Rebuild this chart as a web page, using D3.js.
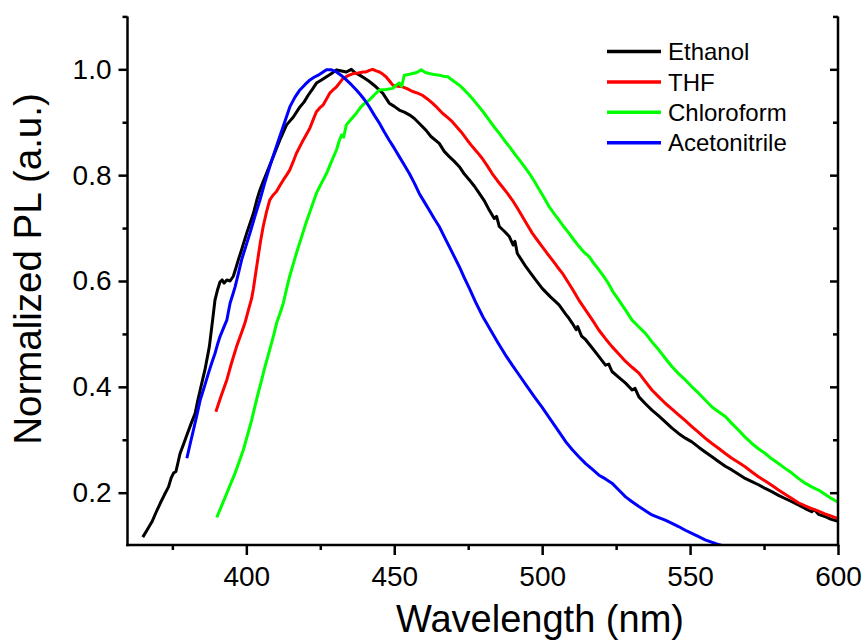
<!DOCTYPE html>
<html>
<head>
<meta charset="utf-8">
<script src="https://cdn.jsdelivr.net/npm/d3@7"></script>
<style>
  html, body { margin: 0; padding: 0; background: #fff; }
  svg { display: block; font-family: "Liberation Sans", Arial, sans-serif; }
</style>
</head>
<body>
<svg id="chart" width="866" height="644"></svg>
<script>
// ---- Data ----
const seriesNames = ["Ethanol", "THF", "Chloroform", "Acetonitrile"];
const seriesColors = ["#000000", "#ff0000", "#00ff00", "#0000ff"];

const xTicksMajor = [400, 450, 500, 550, 600];
const xTicksMinor = [375, 425, 475, 525, 575];
const yTicksMajor = [0.2, 0.4, 0.6, 0.8, 1.0];
const yTickLabels = ["0.2", "0.4", "0.6", "0.8", "1.0"];
const yTicksMinor = [0.3, 0.5, 0.7, 0.9, 1.1];

const ethanol = [
[365.0,0.116],[366.5,0.130],[368.1,0.145],[369.5,0.163],[370.9,0.180],[372.3,0.196],[373.7,0.211],[374.6,0.228],
[375.4,0.237],[376.2,0.240],[377.6,0.274],[378.8,0.292],[379.9,0.309],[381.3,0.330],[382.7,0.350],[383.5,0.372],
[384.4,0.394],[385.2,0.413],[386.0,0.432],[387.5,0.476],[388.6,0.526],[389.4,0.564],[390.2,0.582],[391.1,0.598],
[391.8,0.602],[392.5,0.596],[393.4,0.602],[394.5,0.600],[395.6,0.609],[396.5,0.625],[397.3,0.640],[398.4,0.659],
[400.1,0.690],[401.2,0.708],[402.4,0.728],[403.5,0.752],[404.6,0.772],[405.7,0.788],[406.8,0.803],[409.1,0.835],
[411.3,0.866],[413.6,0.895],[415.9,0.910],[418.1,0.929],[419.5,0.938],[420.9,0.951],[422.3,0.962],[423.7,0.974],
[425.4,0.980],[427.1,0.986],[428.8,0.992],[430.5,0.999],[432.2,0.997],[433.8,0.995],[435.5,1.000],[436.9,0.993],
[438.3,0.989],[440.0,0.983],[441.6,0.977],[443.8,0.967],[446.1,0.955],[448.3,0.936],[450.0,0.930],[451.7,0.923],
[453.4,0.919],[455.1,0.914],[456.8,0.907],[458.4,0.898],[460.7,0.885],[462.4,0.873],[465.2,0.860],[466.9,0.845],
[468.6,0.835],[470.3,0.826],[472.0,0.816],[473.7,0.802],[475.4,0.791],[477.1,0.779],[478.7,0.766],[480.4,0.752],
[482.1,0.734],[483.8,0.718],[484.6,0.722],[485.5,0.703],[487.2,0.694],[488.9,0.684],[490.2,0.668],[490.8,0.675],
[491.6,0.652],[493.0,0.640],[494.5,0.627],[496.1,0.615],[497.8,0.602],[500.0,0.586],[502.8,0.570],[505.7,0.555],
[508.0,0.537],[509.0,0.530],[510.2,0.520],[511.5,0.508],[512.0,0.514],[513.3,0.496],[514.7,0.489],[517.0,0.473],
[519.2,0.457],[521.4,0.441],[522.5,0.443],[523.6,0.429],[525.9,0.418],[528.2,0.407],[530.4,0.394],[531.4,0.397],
[532.7,0.381],[534.9,0.368],[537.1,0.356],[539.4,0.345],[541.6,0.334],[543.9,0.322],[546.1,0.312],[548.4,0.303],
[550.6,0.296],[552.9,0.286],[555.1,0.277],[557.4,0.268],[559.6,0.259],[561.9,0.250],[564.1,0.243],[566.4,0.235],
[568.6,0.227],[570.9,0.221],[573.1,0.215],[575.4,0.208],[577.6,0.202],[579.9,0.195],[582.1,0.189],[584.4,0.183],
[586.6,0.177],[588.9,0.170],[591.1,0.164],[592.0,0.168],[593.4,0.159],[595.6,0.155],[597.5,0.150],[600.0,0.146]
];

const thf = [
[389.7,0.353],[391.5,0.383],[393.4,0.413],[395.0,0.445],[396.7,0.476],[398.1,0.498],[399.5,0.520],[400.6,0.543],
[401.8,0.567],[402.4,0.586],[403.2,0.616],[404.0,0.646],[404.8,0.675],[405.7,0.703],[406.8,0.730],[407.9,0.753],
[409.0,0.762],[410.2,0.769],[411.3,0.780],[412.5,0.791],[413.6,0.800],[414.7,0.810],[415.8,0.825],[416.9,0.841],
[418.0,0.853],[419.2,0.866],[420.3,0.877],[421.5,0.889],[422.6,0.905],[423.7,0.920],[424.8,0.927],[426.0,0.933],
[427.1,0.944],[428.2,0.955],[429.3,0.961],[430.5,0.967],[431.6,0.975],[432.7,0.983],[434.4,0.988],[436.1,0.992],
[437.8,0.993],[439.5,0.995],[440.5,0.995],[441.6,0.998],[442.7,1.000],[443.9,0.997],[445.0,0.995],[446.1,0.991],
[447.2,0.986],[448.4,0.978],[449.5,0.970],[451.2,0.968],[452.8,0.967],[454.5,0.963],[456.2,0.958],[457.9,0.955],
[459.5,0.951],[461.2,0.944],[462.9,0.936],[464.6,0.927],[466.3,0.917],[468.0,0.909],[469.6,0.901],[471.3,0.890],
[473.0,0.879],[474.7,0.866],[476.4,0.854],[478.1,0.843],[479.7,0.832],[481.4,0.818],[483.1,0.803],[484.8,0.790],
[486.5,0.778],[488.2,0.766],[489.9,0.753],[491.6,0.738],[493.3,0.722],[495.0,0.706],[496.7,0.690],[498.4,0.677],
[500.0,0.665],[501.7,0.652],[503.4,0.640],[505.1,0.627],[506.8,0.615],[508.5,0.600],[510.2,0.585],[512.4,0.564],
[514.7,0.545],[517.0,0.526],[519.2,0.507],[521.4,0.491],[523.6,0.476],[525.9,0.462],[528.2,0.448],[530.4,0.437],
[532.7,0.426],[534.9,0.410],[537.1,0.394],[539.4,0.381],[541.6,0.369],[543.9,0.358],[546.1,0.347],[548.4,0.336],
[550.6,0.325],[552.9,0.314],[555.1,0.303],[557.4,0.293],[559.6,0.284],[561.9,0.274],[564.1,0.265],[566.4,0.257],
[568.6,0.249],[570.9,0.239],[573.1,0.230],[575.4,0.222],[577.6,0.214],[579.9,0.205],[582.1,0.197],[584.4,0.189],
[586.6,0.181],[588.9,0.175],[591.1,0.170],[593.4,0.165],[595.6,0.160],[597.5,0.156],[600.0,0.151]
];

const chloroform = [
[390.0,0.153],[391.7,0.176],[393.4,0.199],[394.8,0.218],[396.2,0.237],[397.6,0.259],[399.0,0.281],[400.4,0.309],
[401.8,0.337],[402.9,0.363],[404.0,0.388],[405.2,0.413],[406.3,0.438],[407.4,0.460],[408.5,0.482],[409.4,0.501],
[410.2,0.520],[411.4,0.539],[412.5,0.558],[413.6,0.585],[414.7,0.610],[415.8,0.631],[416.9,0.652],[418.6,0.682],
[420.3,0.712],[422.0,0.739],[423.7,0.766],[425.4,0.785],[427.1,0.803],[428.8,0.826],[430.5,0.848],[431.4,0.865],
[432.2,0.876],[432.9,0.872],[433.8,0.895],[435.5,0.906],[437.2,0.917],[438.6,0.928],[440.0,0.936],[441.6,0.942],
[443.3,0.952],[445.0,0.961],[447.2,0.962],[449.5,0.964],[450.6,0.970],[451.7,0.974],[452.5,0.968],[453.4,0.989],
[454.8,0.990],[456.2,0.992],[457.6,0.994],[459.1,0.999],[460.5,0.994],[461.9,0.992],[463.5,0.990],[465.2,0.989],
[466.6,0.987],[468.1,0.986],[470.0,0.978],[472.0,0.970],[473.7,0.961],[475.4,0.951],[477.1,0.940],[478.7,0.929],
[480.4,0.917],[482.1,0.904],[483.8,0.891],[485.5,0.879],[487.2,0.866],[488.9,0.854],[490.6,0.841],[492.3,0.829],
[494.0,0.816],[495.7,0.803],[497.4,0.788],[499.1,0.772],[500.8,0.756],[502.4,0.740],[504.1,0.727],[505.7,0.715],
[507.4,0.702],[509.1,0.690],[510.8,0.677],[512.5,0.665],[514.2,0.654],[515.9,0.646],[517.5,0.633],[519.2,0.621],
[520.6,0.610],[522.0,0.599],[523.9,0.580],[525.9,0.564],[528.2,0.545],[530.4,0.526],[532.7,0.513],[534.9,0.501],
[537.1,0.485],[539.4,0.470],[541.6,0.454],[543.9,0.438],[546.1,0.425],[548.4,0.413],[550.6,0.400],[552.9,0.388],
[555.1,0.375],[557.4,0.362],[559.6,0.353],[561.9,0.344],[564.1,0.331],[566.4,0.318],[568.6,0.305],[570.9,0.293],
[573.1,0.283],[575.4,0.274],[577.6,0.264],[579.9,0.255],[582.1,0.246],[584.4,0.237],[586.6,0.227],[588.9,0.218],
[591.1,0.211],[593.4,0.205],[595.6,0.197],[597.5,0.190],[600.0,0.182]
];

const acetonitrile = [
[379.9,0.265],[381.0,0.292],[382.1,0.318],[383.3,0.347],[384.4,0.375],[385.8,0.400],[387.2,0.426],[388.3,0.445],
[389.4,0.463],[390.2,0.479],[391.1,0.495],[392.2,0.510],[393.4,0.526],[394.5,0.558],[395.4,0.574],[396.2,0.589],
[397.3,0.614],[398.4,0.640],[399.8,0.665],[401.2,0.690],[402.9,0.722],[404.6,0.753],[406.2,0.785],[407.9,0.816],
[409.6,0.845],[411.3,0.873],[413.0,0.901],[414.7,0.929],[416.4,0.947],[418.1,0.961],[419.8,0.971],[421.5,0.980],
[422.9,0.985],[424.3,0.989],[425.7,0.994],[427.1,0.999],[428.8,0.999],[430.5,0.995],[432.2,0.988],[433.8,0.980],
[435.5,0.971],[437.2,0.961],[438.6,0.952],[440.0,0.942],[441.6,0.929],[443.3,0.913],[445.0,0.898],[446.6,0.882],
[448.3,0.866],[450.0,0.851],[451.7,0.835],[453.4,0.819],[455.1,0.803],[456.8,0.785],[458.4,0.766],[460.1,0.750],
[461.8,0.734],[463.5,0.718],[465.2,0.703],[466.9,0.684],[468.6,0.665],[470.3,0.646],[472.0,0.627],[473.7,0.606],
[475.4,0.586],[477.5,0.560],[480.0,0.532],[482.5,0.508],[485.0,0.484],[487.5,0.461],[490.0,0.440],[492.5,0.420],
[495.0,0.400],[497.5,0.380],[500.0,0.361],[502.5,0.341],[505.7,0.315],[508.0,0.296],[510.2,0.281],[512.4,0.268],
[514.7,0.255],[517.0,0.244],[519.2,0.233],[521.4,0.226],[523.6,0.218],[525.9,0.205],[528.2,0.192],[530.4,0.183],
[532.7,0.174],[534.9,0.166],[537.1,0.158],[539.4,0.153],[541.6,0.148],[543.9,0.142],[546.1,0.136],[548.4,0.129],
[550.6,0.123],[552.9,0.117],[555.1,0.111],[557.0,0.107],[559.0,0.103],[561.0,0.100]
];

const seriesData = [ethanol, thf, chloroform, acetonitrile];

// ---- Layout ----
const svg = d3.select("#chart");
const L = 128, R = 838, T = 16.4, B = 545.6;
const x = d3.scaleLinear().domain([360, 600]).range([L, R]);
const y = d3.scaleLinear().domain([0.1, 1.1]).range([B, T]);
const font = '"Liberation Sans", Arial, sans-serif';

svg.append("defs").append("clipPath").attr("id", "clip")
  .append("rect").attr("x", L).attr("y", T).attr("width", R - L).attr("height", B - T);

// Curves
const line = d3.line().x(d => x(d[0])).y(d => y(d[1]));
const gCurves = svg.append("g").attr("clip-path", "url(#clip)");
seriesData.forEach((data, i) => {
  gCurves.append("path").datum(data)
    .attr("d", line)
    .attr("fill", "none")
    .attr("stroke", seriesColors[i])
    .attr("stroke-width", 3)
    .attr("stroke-linejoin", "round");
});

// Axes
const axisW = 2.5;
const xAxis = d3.axisBottom(x).tickValues(xTicksMajor).tickSize(10).tickPadding(11).tickFormat(d3.format("d"));
const gx = svg.append("g").attr("transform", `translate(0,${B - 0.6})`).call(xAxis);
svg.append("g").attr("transform", `translate(0,${B - 0.6})`)
  .call(d3.axisBottom(x).tickValues(xTicksMinor).tickSize(5).tickFormat(""));

const yAxis = d3.axisLeft(y).tickValues(yTicksMajor).tickSize(9).tickPadding(7)
  .tickFormat((d, i) => yTickLabels[i]);
const gy = svg.append("g").attr("transform", `translate(${L - 0.5},0)`).call(yAxis);
svg.append("g").attr("transform", `translate(${L - 0.5},0)`)
  .call(d3.axisLeft(y).tickValues(yTicksMinor).tickSize(5).tickFormat(""));

svg.append("g").attr("transform", `translate(${R},0)`)
  .call(d3.axisRight(y).tickValues(yTicksMajor).tickSize(-8).tickFormat(""));
svg.append("g").attr("transform", `translate(${R},0)`)
  .call(d3.axisRight(y).tickValues(yTicksMinor).tickSize(-5).tickFormat(""));

svg.selectAll(".tick line").attr("stroke", "#000").attr("stroke-width", axisW);
svg.selectAll(".domain").remove();

svg.append("line").attr("x1", L - 1.75).attr("x2", R + 1.25).attr("y1", B - 0.6).attr("y2", B - 0.6)
  .attr("stroke", "#000").attr("stroke-width", axisW);
svg.append("line").attr("x1", L - 0.5).attr("x2", L - 0.5).attr("y1", T).attr("y2", B + 0.65)
  .attr("stroke", "#000").attr("stroke-width", axisW);
svg.append("line").attr("x1", R).attr("x2", R).attr("y1", T).attr("y2", B + 0.65)
  .attr("stroke", "#000").attr("stroke-width", axisW);

gx.selectAll(".tick text").attr("font-family", font).attr("font-size", 28).attr("fill", "#000");
gy.selectAll(".tick text").attr("font-family", font).attr("font-size", 28).attr("fill", "#000");

// Axis titles
svg.append("text").attr("x", 540).attr("y", 632)
  .attr("text-anchor", "middle").attr("font-family", font).attr("font-size", 38)
  .text("Wavelength (nm)");
svg.append("text").attr("transform", "translate(41,269) rotate(-90)")
  .attr("text-anchor", "middle").attr("font-family", font).attr("font-size", 38.5)
  .text("Normalized PL (a.u.)");

// Legend
const legY0 = 51.5, legDY = 30.4;
seriesNames.forEach((name, i) => {
  const yy = legY0 + i * legDY;
  svg.append("line").attr("x1", 607).attr("x2", 661).attr("y1", yy).attr("y2", yy)
    .attr("stroke", seriesColors[i]).attr("stroke-width", 3.5);
  svg.append("text").attr("x", 668).attr("y", yy).attr("dy", "0.36em")
    .attr("font-family", font).attr("font-size", 24).attr("fill", "#000").text(name);
});
</script>
</body>
</html>
